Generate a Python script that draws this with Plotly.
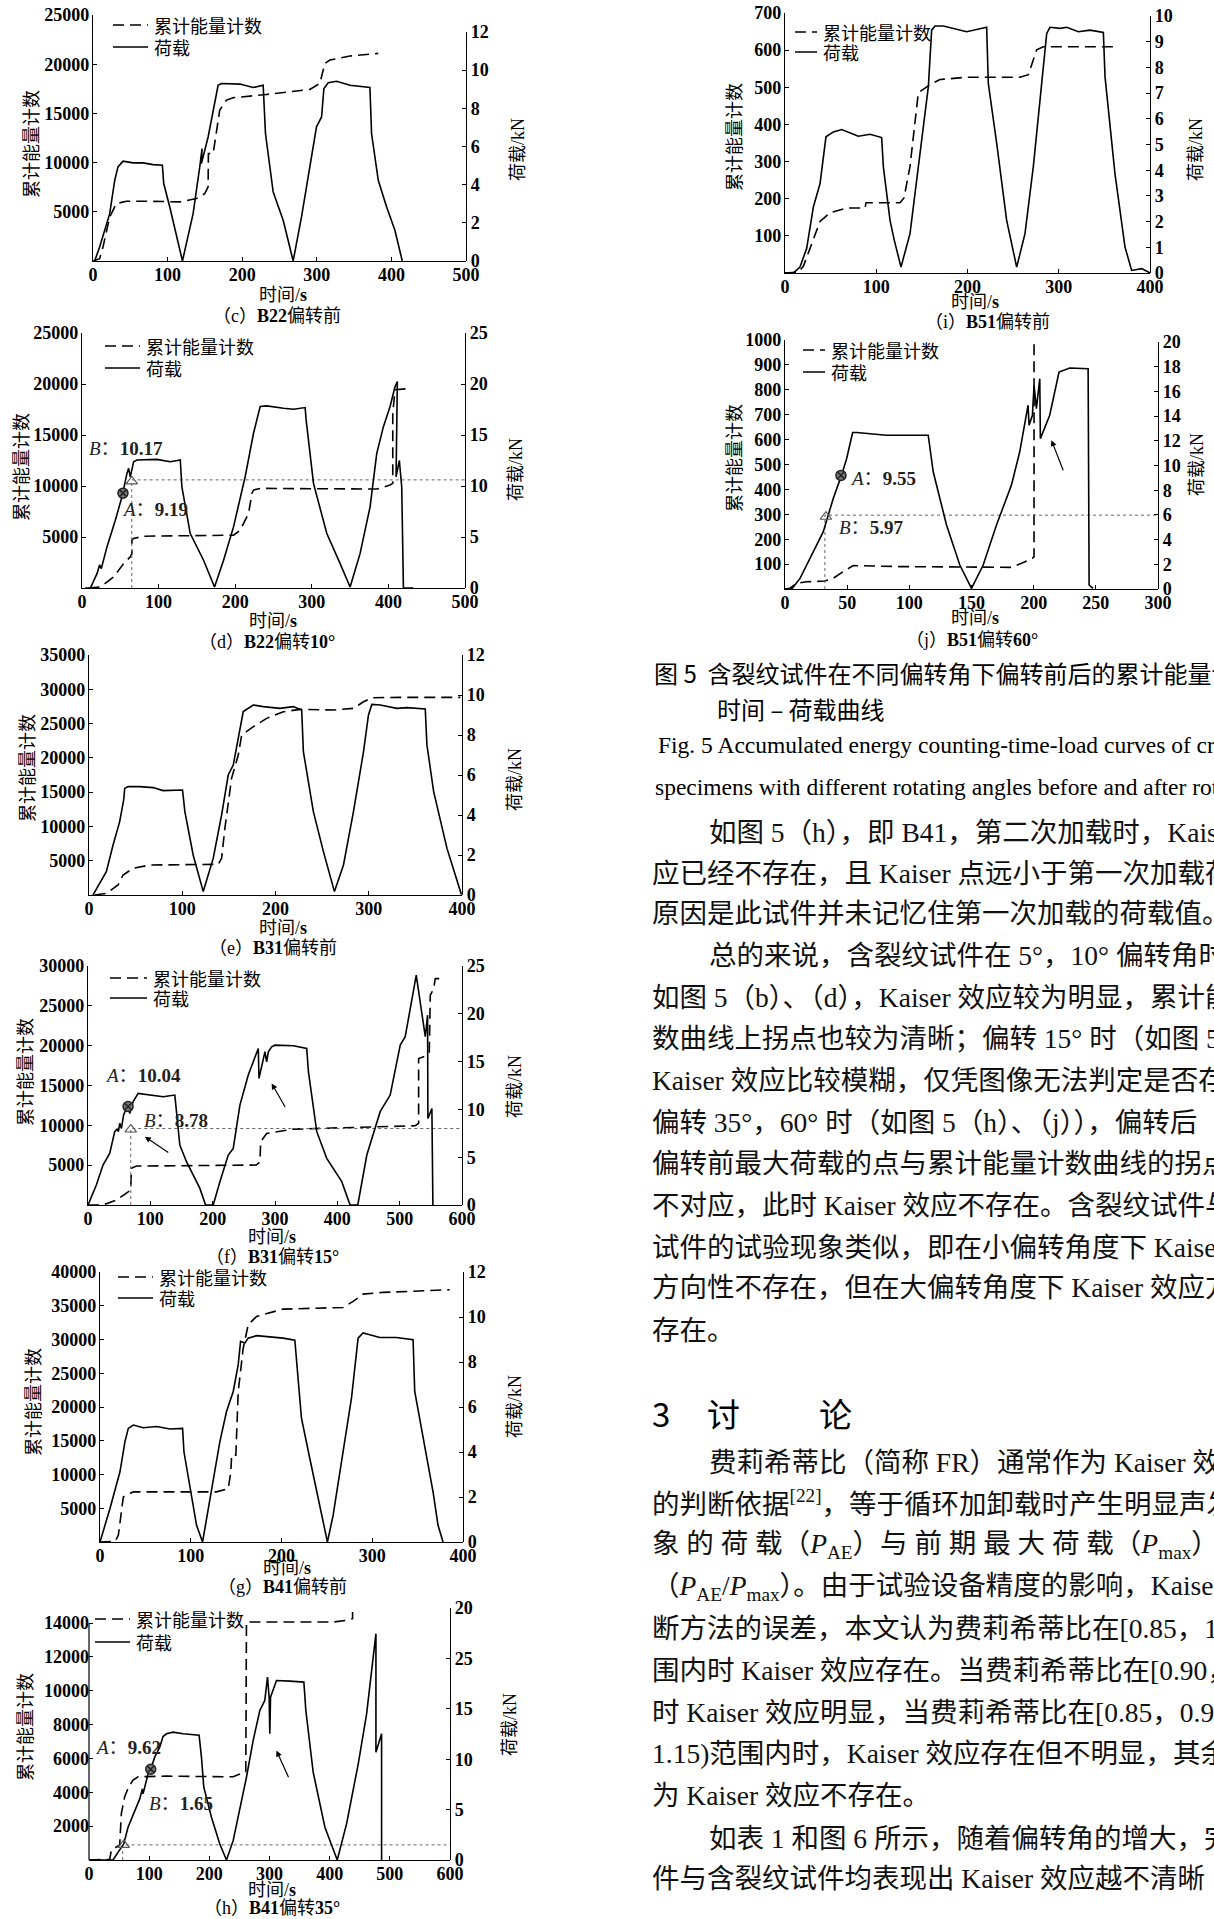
import plotly.graph_objects as go

# ---------------- data ----------------
# (c) B22 before rotation
C_LOAD_T = [2.2, 8.9, 22.4, 29.1, 33.5, 40.3, 53.7, 67.1, 80.5, 93.0, 94.8, 102.9, 119.9, 134.2, 143.1, 146.2, 145.3, 149.0, 154.3, 167.7, 172.2, 196.8, 214.7, 228.1, 231.2, 241.5, 254.9, 259.4, 268.3, 279.5, 290.7, 299.6, 306.4, 309.5, 315.3, 326.5, 344.4, 371.2, 373.4, 382.4, 393.6, 404.7, 414.6]
C_LOAD_KN = [0, 0.73, 2.48, 4.23, 4.93, 5.23, 5.14, 5.14, 5.05, 5.02, 4.06, 2.83, 0, 2.48, 4.93, 5.89, 5.1, 5.7, 6.5, 9.21, 9.30, 9.27, 9.09, 9.21, 6.68, 3.62, 2.13, 1.43, 0, 2.31, 4.93, 7.03, 7.55, 9.04, 9.34, 9.42, 9.21, 9.09, 6.68, 4.23, 2.83, 1.61, 0]
C_AE_T = [0, 8.9, 13.4, 22.4, 31.3, 44.7, 76.0, 116.3, 138.6, 149.8, 154.3, 154.7, 161.0, 169.9, 178.9, 187.8, 232.6, 290.7, 304.1, 310.8, 317.5, 344.4, 382.4]
C_AE_N = [0, 237, 1425, 4478, 5834, 6072, 6072, 6004, 6343, 6852, 7530, 10922, 10922, 15332, 16350, 16587, 16926, 17435, 18046, 20080, 20420, 20827, 21098]

# (d) B22 rotated 10 deg
D_LOAD_T = [4.3, 10.9, 19.6, 23.0, 25.2, 32.6, 43.5, 52.2, 58.7, 60.9, 63.0, 67.4, 71.7, 97.8, 115.2, 128.3, 130.4, 141.3, 158.7, 173.0, 184.8, 197.8, 213.0, 221.7, 223.9, 232.6, 241.3, 263.0, 276.1, 291.3, 292.6, 302.2, 319.6, 337.0, 350.0, 363.0, 376.1, 384.8, 393.5, 402.2, 408.7, 411.7, 410.0, 414.3, 417.4, 419.6, 432.6]
D_LOAD_KN = [0, 0, 1.41, 2.26, 1.90, 4.03, 6.65, 8.94, 11.23, 11.73, 10.9, 12.38, 12.55, 12.61, 12.38, 12.55, 9.92, 5.34, 2.72, 0.1, 2.72, 5.99, 10.91, 14.51, 15.17, 17.79, 17.85, 17.62, 17.52, 17.69, 16.48, 10.25, 5.34, 2.39, 0.1, 3.37, 7.96, 13.2, 15.82, 17.79, 19.75, 20.24, 10.9, 12.5, 9.9, 0, 0]
D_AE_T = [8.7, 23.9, 41.3, 54.3, 63.0, 65.2, 65.2, 67.4, 80.4, 197.8, 206.5, 217.4, 220.4, 221.7, 223.9, 232.6, 384.8, 402.2, 405.7, 405.7, 408.7, 423.9]
D_AE_N = [0, 98, 1081, 2392, 3048, 3375, 4686, 4850, 5079, 5177, 5670, 7308, 8618, 9274, 9601, 9766, 9700, 10093, 10257, 17138, 19432, 19530]
D_PT_A = [53.5, 9.3]
D_PT_B = [65.0, 10.45]
D_REF_T = [65.0, 65.0, 500]
D_REF_KN = [0, 10.6, 10.6]

# (e) B31 before rotation
E_LOAD_T = [4.3, 11.5, 18.6, 25.8, 32.9, 37.2, 38.3, 41.9, 54.4, 68.8, 79.5, 100.3, 102.8, 111.7, 122.5, 133.2, 142.2, 149.3, 154.7, 165.4, 176.2, 186.9, 204.8, 219.1, 228.1, 229.9, 240.6, 251.4, 263.2, 272.9, 283.6, 294.4, 299.7, 303.3, 312.3, 330.2, 340.9, 360.6, 362.4, 369.6, 383.9, 399.3]
E_LOAD_KN = [0, 0.58, 1.17, 2.5, 3.67, 4.75, 5.33, 5.42, 5.42, 5.37, 5.22, 5.25, 4.17, 2.0, 0.17, 1.83, 4.0, 6.0, 6.5, 9.17, 9.5, 9.42, 9.33, 9.42, 9.25, 7.17, 4.17, 2.17, 0.17, 1.5, 4.17, 7.17, 9.0, 9.53, 9.5, 9.33, 9.37, 9.3, 7.5, 5.17, 2.33, 0.03]
E_AE_T = [6.1, 18.6, 31.2, 36.5, 47.3, 65.2, 138.6, 142.2, 145.7, 149.3, 152.9, 160.1, 163.7, 176.2, 190.5, 208.4, 226.3, 262.1, 283.6, 294.4, 303.3, 333.8, 398.2]
E_AE_N = [0, 243, 1458, 2916, 3888, 4374, 4471, 5346, 9720, 13122, 17010, 20412, 23328, 24543, 25758, 26730, 27070, 26973, 27216, 28188, 28771, 28820, 28820]

# (f) B31 rotated 15 deg
F_LOAD_T = [0, 13.4, 24.1, 34.8, 42.9, 46.6, 48.8, 50.9, 53.6, 57.3, 60.5, 64.3, 67.0, 72.3, 80.4, 99.1, 120.5, 139.3, 142.0, 147.3, 158.0, 179.5, 188.6, 200.9, 211.6, 225.0, 233.0, 243.7, 257.1, 273.2, 274.3, 283.9, 286.6, 289.3, 294.6, 300.0, 329.5, 350.9, 353.6, 367.0, 383.0, 407.1, 420.5, 432.8, 447.3, 468.7, 484.8, 500.9, 508.9, 526.6, 541.1, 544.8, 545.3, 551.7, 553.3]
F_LOAD_KN = [0, 2.09, 4.18, 5.4, 7.67, 7.94, 7.67, 8.54, 8.01, 9.48, 9.93, 10.38, 9.58, 10.8, 11.67, 11.5, 11.32, 11.5, 9.76, 6.27, 4.53, 1.74, 0, 0, 2.44, 5.23, 5.92, 10.45, 13.59, 16.38, 13.24, 16.03, 14.98, 16.03, 16.55, 16.72, 16.66, 16.38, 13.94, 7.67, 4.88, 2.44, 0, 0, 5.23, 9.76, 11.5, 16.72, 17.6, 24.04, 17.6, 19.86, 9.06, 10.1, 0]
F_AE_T = [0, 24.1, 45.5, 61.6, 68.6, 69.6, 77.7, 270.0, 275.9, 277.0, 286.6, 329.5, 525.0, 530.4, 530.4, 538.4, 547.5, 549.1, 554.5, 557.1, 565.2]
F_AE_N = [0, 0, 627, 1462, 1880, 4596, 4888, 5014, 5431, 7938, 8983, 9526, 9944, 10236, 18383, 18592, 19219, 26321, 27157, 28410, 28410]
F_PT_A = [64.3, 10.3]
F_PT_B = [68.6, 7.9]
F_REF_T = [68.6, 68.6, 600]
F_REF_KN = [0, 8.0, 8.0]
F_ARROWS = [[131.2, 5.4, 91.1, 7.14], [317.7, 10.1, 294.6, 12.72]]

# (g) B41 before rotation
G_LOAD_T = [0, 11.0, 22.0, 27.5, 31.2, 36.7, 47.7, 62.4, 77.1, 91.0, 92.5, 100.9, 106.4, 113.0, 121.1, 132.1, 139.4, 146.8, 152.3, 154.9, 159.6, 163.3, 172.5, 183.5, 201.8, 214.7, 216.5, 222.0, 231.2, 242.2, 250.6, 256.9, 267.9, 277.1, 284.4, 289.9, 297.2, 308.3, 326.6, 345.0, 346.8, 356.0, 367.0, 372.5, 378.0]
G_LOAD_KN = [0, 1.49, 3.12, 4.46, 5.05, 5.2, 5.08, 5.13, 5.02, 5.05, 4.01, 1.93, 0.74, 0, 1.93, 4.46, 5.8, 6.69, 7.88, 8.92, 8.84, 9.06, 9.17, 9.14, 9.06, 8.97, 8.02, 5.5, 3.71, 1.63, 0, 1.19, 4.01, 6.39, 9.06, 9.29, 9.21, 9.09, 9.09, 8.99, 6.69, 4.61, 2.23, 0.74, 0]
G_AE_T = [0, 16.5, 20.2, 25.7, 36.7, 128.4, 141.3, 144.2, 145.0, 149.7, 152.3, 157.8, 163.3, 172.5, 201.8, 267.9, 278.9, 289.9, 311.9, 385.3]
G_AE_N = [0, 99, 990, 6682, 7425, 7425, 7920, 10395, 12870, 12870, 22275, 28710, 32175, 33413, 34502, 34749, 35640, 36729, 36977, 37373]

# (h) B41 rotated 35 deg
H_LOAD_T = [1.1, 39.9, 48.2, 57.7, 64.9, 73.2, 84.3, 88.7, 89.8, 98.2, 103.7, 109.2, 117.5, 123.1, 128.7, 139.7, 156.4, 183.0, 186.9, 190.8, 203.5, 217.4, 228.5, 239.6, 261.7, 272.8, 283.9, 292.2, 296.7, 299.4, 300.5, 301.7, 311.6, 333.8, 357.1, 360.4, 372.6, 392.1, 412.6, 428.1, 447.5, 461.4, 476.9, 476.9, 486.3, 486.3]
H_LOAD_KN = [0, 0, 0.76, 1.59, 3.25, 4.4, 6.06, 7.05, 6.56, 8.54, 9.21, 10.2, 11.19, 12.25, 12.52, 12.68, 12.52, 12.38, 10.2, 7.22, 4.24, 1.59, 0, 1.92, 8.21, 11.85, 14.83, 15.83, 18.15, 16.16, 12.52, 16.16, 17.81, 17.75, 17.65, 14.83, 8.71, 3.25, 0, 3.58, 9.54, 14.5, 22.45, 10.7, 12.52, 0]
H_AE_T = [1.1, 34.4, 37.2, 45.5, 51.0, 53.8, 59.3, 66.0, 73.2, 81.5, 128.7, 239.6, 260.6, 261.7, 295.0, 405.9, 428.1, 438.1, 438.1]
H_AE_N = [0, 39, 590, 786, 885, 2752, 3735, 4325, 4718, 4915, 4954, 4915, 5210, 14057, 14057, 14057, 14155, 14254, 14647]
H_PT_A = [102.6, 9.0]
H_PT_B = [57.7, 1.5]
H_REF_T = [56.0, 56.0, 600]
H_REF_KN = [0, 1.5, 1.5]
H_ARROWS = [[332.7, 8.05, 311.6, 10.86]]

# (i) B51 before rotation
I_LOAD_T = [0, 9.1, 16.4, 23.7, 31.1, 38.4, 44.9, 53.0, 62.1, 71.2, 80.4, 93.2, 105.9, 107.8, 115.1, 119.8, 127.1, 137.0, 147.9, 157.1, 160.7, 164.4, 173.5, 199.1, 221.0, 222.8, 232.0, 242.9, 253.9, 263.0, 272.1, 279.5, 286.8, 290.4, 301.4, 308.7, 321.5, 334.2, 348.9, 350.7, 361.6, 372.6, 379.9, 390.9, 400.0]
I_LOAD_KN = [0, 0, 0.23, 0.95, 2.57, 3.48, 5.3, 5.49, 5.58, 5.45, 5.32, 5.4, 5.27, 4.13, 2.05, 1.27, 0.23, 1.53, 4.65, 7.25, 9.45, 9.61, 9.61, 9.39, 9.56, 7.38, 5.04, 2.05, 0.23, 1.53, 4.13, 6.73, 9.32, 9.56, 9.52, 9.56, 9.39, 9.45, 9.36, 7.64, 3.87, 1.01, 0.1, 0.17, 0]
I_AE_T = [0, 14.6, 20.1, 31.1, 38.4, 49.3, 67.6, 87.7, 88.8, 126.0, 130.4, 137.0, 146.1, 158.9, 169.9, 199.1, 257.5, 266.7, 275.8, 283.1, 308.7, 365.3]
I_AE_N = [0, 2, 18, 90, 139, 162, 175, 175, 189, 189, 202, 287, 485, 507, 521, 527, 527, 534, 601, 609, 609, 609]

# (j) B51 rotated 60 deg
J_LOAD_T = [0, 5.4, 12.1, 22.8, 30.8, 38.8, 45.5, 49.6, 54.4, 57.6, 81.7, 115.2, 119.2, 129.9, 140.6, 150.0, 159.4, 170.1, 182.1, 188.8, 195.5, 196.3, 199.0, 200.3, 202.2, 204.9, 205.4, 212.9, 220.4, 229.0, 243.8, 244.6, 247.8]
J_LOAD_KN = [0, 0, 0.86, 3.02, 4.64, 7.33, 9.22, 10.57, 12.67, 12.67, 12.45, 12.45, 9.49, 5.18, 1.94, 0.05, 1.94, 5.18, 8.41, 11.11, 14.88, 13.26, 14.07, 16.5, 14.61, 17.03, 12.18, 14.07, 17.57, 17.9, 17.84, 0.32, 0.05]
J_AE_T = [0, 4.0, 9.4, 17.4, 32.1, 38.8, 46.9, 54.9, 92.4, 172.8, 182.1, 190.2, 199.0, 200.3, 200.3]
J_AE_N = [0, 3, 23, 29, 32, 43, 70, 94, 90, 87, 87, 103, 123, 130, 1000]
J_PT_A = [45.0, 9.2]
J_PT_B = [32.9, 5.85]
J_REF_T = [32.1, 32.1, 300]
J_REF_KN = [0, 5.98, 5.98]
J_ARROWS = [[224.2, 9.49, 214.3, 12.05]]

# tick values / labels
X500 = [0, 100, 200, 300, 400, 500]
X400 = [0, 100, 200, 300, 400]
X600 = [0, 100, 200, 300, 400, 500, 600]
X300 = [0, 50, 100, 150, 200, 250, 300]
YL_25000 = [5000, 10000, 15000, 20000, 25000]
YL_35000 = [5000, 10000, 15000, 20000, 25000, 30000, 35000]
YL_30000 = [5000, 10000, 15000, 20000, 25000, 30000]
YL_40000 = [5000, 10000, 15000, 20000, 25000, 30000, 35000, 40000]
YL_14000 = [2000, 4000, 6000, 8000, 10000, 12000, 14000]
YL_700 = [100, 200, 300, 400, 500, 600, 700]
YL_1000 = [100, 200, 300, 400, 500, 600, 700, 800, 900, 1000]
YR_12 = [0, 2, 4, 6, 8, 10, 12]
YR_25 = [0, 5, 10, 15, 20, 25]
YR_H_TEXT = ["0", "5", "10", "15", "25", "20"]
YR_10 = [0, 1, 2, 3, 4, 5, 6, 7, 8, 9, 10]
YR_20 = [0, 2, 4, 6, 8, 10, 12, 14, 16, 18, 20]

LEG_AE = "累计能量计数"
LEG_LOAD = "荷载"
Y_LEFT_TITLE = "累计能量计数"
Y_RIGHT_TITLE = "荷载/kN"
X_TITLE = "时间/<b>s</b>"

# ---------------- layout helpers ----------------
W, H = 1214, 1919
def px(x): return x / W
def py(y): return 1 - y / H

SERIF = "Liberation Serif"
CJK = "Noto Sans CJK SC"
MIX = "Liberation Serif, Noto Sans CJK SC"

def aname(p, k): return p + "axis" + ("" if k == 1 else str(k))
def aref(p, k): return p + ("" if k == 1 else str(k))

panels = [
    dict(lt=C_LOAD_T, lk=C_LOAD_KN, at=C_AE_T, an=C_AE_N, xd=(93, 466), yl=(261, 15), yr=(261, 32),
         xr=[0, 500], ylr=[0, 25000], yrr=[0, 12], xt=X500, ylt=YL_25000, yrt=YR_12,
         ytl=(30, 144), ytr=(518, 150), xtt=(283, 295), cap=(277, 316), captxt="（c）<b>B22</b>偏转前",
         leg=(113, 148, 25, 47)),
    dict(lt=D_LOAD_T, lk=D_LOAD_KN, at=D_AE_T, an=D_AE_N, xd=(82, 465), yl=(588, 333), yr=(588, 333),
         xr=[0, 500], ylr=[0, 25000], yrr=[0, 25], xt=X500, ylt=YL_25000, yrt=YR_25,
         ytl=(20, 467), ytr=(516, 470), xtt=(273, 621), cap=(267, 642), captxt="（d）<b>B22</b>偏转<b>10°</b>",
         leg=(105, 140, 346, 368), pa=D_PT_A, pb=D_PT_B, ref=(D_REF_T, D_REF_KN),
         lab=[("<i>B</i>：<b>10.17</b>", 87, 448), ("<i>A</i>：<b>9.19</b>", 120, 510)]),
    dict(lt=E_LOAD_T, lk=E_LOAD_KN, at=E_AE_T, an=E_AE_N, xd=(89, 462), yl=(895, 655), yr=(895, 655),
         xr=[0, 400], ylr=[0, 35000], yrr=[0, 12], xt=X400, ylt=YL_35000, yrt=YR_12,
         ytl=(26, 768), ytr=(515, 780), xtt=(283, 928), cap=(273, 948), captxt="（e）<b>B31</b>偏转前"),
    dict(lt=F_LOAD_T, lk=F_LOAD_KN, at=F_AE_T, an=F_AE_N, xd=(88, 462), yl=(1205, 966), yr=(1205, 966),
         xr=[0, 600], ylr=[0, 30000], yrr=[0, 25], xt=X600, ylt=YL_30000, yrt=YR_25,
         ytl=(24, 1072), ytr=(515, 1087), xtt=(272, 1237), cap=(272, 1257), captxt="（f）<b>B31</b>偏转<b>15°</b>",
         leg=(110, 147, 978, 998), pa=F_PT_A, pb=F_PT_B, ref=(F_REF_T, F_REF_KN), arrows=F_ARROWS,
         lab=[("<i>A</i>：<b>10.04</b>", 103, 1075), ("<i>B</i>：<b>8.78</b>", 142, 1120)]),
    dict(lt=G_LOAD_T, lk=G_LOAD_KN, at=G_AE_T, an=G_AE_N, xd=(100, 463), yl=(1542, 1272), yr=(1542, 1272),
         xr=[0, 400], ylr=[0, 40000], yrr=[0, 12], xt=X400, ylt=YL_40000, yrt=YR_12,
         ytl=(32, 1402), ytr=(515, 1407), xtt=(287, 1568), cap=(282, 1587), captxt="（g）<b>B41</b>偏转前",
         leg=(118, 153, 1277, 1298)),
    dict(lt=H_LOAD_T, lk=H_LOAD_KN, at=H_AE_T, an=H_AE_N, xd=(89, 450), yl=(1860, 1608), yr=(1860, 1608),
         xr=[0, 600], ylr=[0, 14886], yrr=[0, 25], xt=X600, ylt=YL_14000, yrt=YR_25, yrtext=YR_H_TEXT,
         ytl=(24, 1727), ytr=(510, 1725), xtt=(272, 1890), cap=(272, 1908), captxt="（h）<b>B41</b>偏转<b>35°</b>",
         leg=(95, 130, 1619, 1642), pa=H_PT_A, pb=H_PT_B, ref=(H_REF_T, H_REF_KN), arrows=H_ARROWS,
         lab=[("<i>A</i>：<b>9.62</b>", 93, 1747), ("<i>B</i>：<b>1.65</b>", 147, 1803)], lefttop=14000),
    dict(lt=I_LOAD_T, lk=I_LOAD_KN, at=I_AE_T, an=I_AE_N, xd=(785, 1150), yl=(273, 13), yr=(273, 16),
         xr=[0, 400], ylr=[0, 700], yrr=[0, 10], xt=X400, ylt=YL_700, yrt=YR_10,
         ytl=(733, 137), ytr=(1196, 150), xtt=(975, 302), cap=(987, 322), captxt="（i）<b>B51</b>偏转前",
         leg=(795, 817, 32, 52)),
    dict(lt=J_LOAD_T, lk=J_LOAD_KN, at=J_AE_T, an=J_AE_N, xd=(785, 1158), yl=(589, 340), yr=(589, 342),
         xr=[0, 300], ylr=[0, 1000], yrr=[0, 20], xt=X300, ylt=YL_1000, yrt=YR_20,
         ytl=(733, 458), ytr=(1197, 465), xtt=(975, 618), cap=(972, 640), captxt="（j）<b>B51</b>偏转<b>60°</b>",
         leg=(803, 825, 350, 372), pa=J_PT_A, pb=J_PT_B, ref=(J_REF_T, J_REF_KN), arrows=J_ARROWS,
         lab=[("<i>A</i>：<b>9.55</b>", 848, 478), ("<i>B</i>：<b>5.97</b>", 837, 527)]),
]

fig = go.Figure()
layout = dict(width=W, height=H, autosize=False, margin=dict(l=0, r=0, t=0, b=0, pad=0),
              paper_bgcolor="white", plot_bgcolor="rgba(0,0,0,0)", showlegend=False)
annotations, shapes = [], []

tickfont = dict(family=SERIF, size=18, color="black", weight="bold")
base_axis = dict(showgrid=False, zeroline=False, showline=True, linecolor="black", linewidth=1.2,
                 ticks="inside", ticklen=4, tickwidth=1, tickcolor="black", tickfont=tickfont,
                 tickformat="d", automargin=False, fixedrange=True)

def txt(x, y, text, size=18, family=CJK, xanchor="center", angle=0, color="black"):
    annotations.append(dict(x=px(x), y=py(y), xref="paper", yref="paper", text=text, showarrow=False,
                            xanchor=xanchor, yanchor="middle", textangle=angle,
                            font=dict(family=family, size=size, color=color)))

for i, p in enumerate(panels):
    kx, kl, kr = i + 1, 2 * i + 1, 2 * i + 2
    xr_, yl_, yr_ = aref("x", kx), aref("y", kl), aref("y", kr)
    layout[aname("x", kx)] = dict(base_axis, domain=[px(p["xd"][0]), px(p["xd"][1])], anchor=yl_,
                                 range=p["xr"], tickvals=p["xt"], ticklabelstandoff=-3)
    yl_axis = dict(base_axis, domain=[py(p["yl"][0]), py(p["yl"][1])], anchor=xr_, side="left",
                   range=p["ylr"], tickvals=p["ylt"], ticklabelstandoff=-1)
    if "lefttop" in p:
        yl_axis["showline"] = False
        shapes.append(dict(type="line", xref="paper", yref=yl_, x0=px(p["xd"][0]), x1=px(p["xd"][0]),
                           y0=0, y1=p["lefttop"], line=dict(color="black", width=1.2)))
    layout[aname("y", kl)] = yl_axis
    yr_axis = dict(base_axis, domain=[py(p["yr"][0]), py(p["yr"][1])], anchor=xr_, side="right",
                   range=p["yrr"], tickvals=p["yrt"])
    if "yrtext" in p:
        yr_axis["ticktext"] = p["yrtext"]
    layout[aname("y", kr)] = yr_axis

    # reference dotted lines
    if "ref" in p:
        fig.add_trace(go.Scatter(x=p["ref"][0], y=p["ref"][1], xaxis=xr_, yaxis=yr_, mode="lines",
                                 line=dict(color="#666", width=1, dash="dot"), hoverinfo="skip"))
    # energy (dashed) and load (solid)
    fig.add_trace(go.Scatter(x=p["at"], y=p["an"], xaxis=xr_, yaxis=yl_, mode="lines",
                             line=dict(color="black", width=1.6, dash="11px,6px"), name=LEG_AE))
    fig.add_trace(go.Scatter(x=p["lt"], y=p["lk"], xaxis=xr_, yaxis=yr_, mode="lines",
                             line=dict(color="black", width=1.6), name=LEG_LOAD))
    if "pa" in p:
        fig.add_trace(go.Scatter(x=[p["pa"][0]], y=[p["pa"][1]], xaxis=xr_, yaxis=yr_, mode="markers",
                                 marker=dict(symbol="circle-x", size=10, color="#777",
                                             line=dict(color="#222", width=1.5))))
        fig.add_trace(go.Scatter(x=[p["pb"][0]], y=[p["pb"][1]], xaxis=xr_, yaxis=yr_, mode="markers",
                                 marker=dict(symbol="triangle-up-open", size=10, color="#555",
                                             line=dict(width=1.2))))
    for a in p.get("arrows", []):
        annotations.append(dict(x=a[2], y=a[3], ax=a[0], ay=a[1], xref=xr_, yref=yr_, axref=xr_,
                                ayref=yr_, text="", showarrow=True, arrowhead=2, arrowsize=1,
                                arrowwidth=1.2, arrowcolor="black"))
    for (t, x, y) in p.get("lab", []):
        txt(x, y, t, size=19, family=MIX, xanchor="left", color="#222")

    # titles
    txt(p["ytl"][0], p["ytl"][1], Y_LEFT_TITLE, size=18, angle=-90)
    txt(p["ytr"][0], p["ytr"][1], Y_RIGHT_TITLE, size=18, family=MIX, angle=-90)
    txt(p["xtt"][0], p["xtt"][1], X_TITLE, size=18, family=MIX)
    txt(p["cap"][0], p["cap"][1], p["captxt"], size=18, family=MIX)

    # legend
    if "leg" in p:
        x0, x1, ya, yb = p["leg"]
        shapes.append(dict(type="line", xref="paper", yref="paper", x0=px(x0), x1=px(x1), y0=py(ya), y1=py(ya),
                           line=dict(color="black", width=1.5, dash="11px,6px")))
        shapes.append(dict(type="line", xref="paper", yref="paper", x0=px(x0), x1=px(x1), y0=py(yb), y1=py(yb),
                           line=dict(color="black", width=1.5)))
        txt(x1 + 4, ya, LEG_AE, size=18, xanchor="left")
        txt(x1 + 4, yb, LEG_LOAD, size=18, xanchor="left")

# ---------------- right-column text ----------------
txt(652, 673, "图 5  含裂纹试件在不同偏转角下偏转前后的累计能量计数–", size=24, xanchor="left")
txt(715, 708, "时间 – 荷载曲线", size=24, xanchor="left")
txt(656, 745, "Fig. 5 Accumulated energy counting-time-load curves of cracked", size=23.5, family=SERIF, xanchor="left")
txt(653, 787, "specimens with different rotating angles before and after rotating", size=23.5, family=SERIF, xanchor="left")

BODY = [
    (707, 832, "如图 5（h），即 B41，第二次加载时，Kaiser 效应"),
    (650, 873, "应已经不存在，且 Kaiser 点远小于第一次加载荷载，"),
    (650, 913, "原因是此试件并未记忆住第一次加载的荷载值。"),
    (707, 955, "总的来说，含裂纹试件在 5°，10° 偏转角时，"),
    (650, 998, "如图 5（b）、（d），Kaiser 效应较为明显，累计能量计"),
    (650, 1038, "数曲线上拐点也较为清晰；偏转 15° 时（如图 5（f）），"),
    (650, 1080, "Kaiser 效应比较模糊，仅凭图像无法判定是否存在；"),
    (650, 1122, "偏转 35°，60° 时（如图 5（h）、（j）），偏转后"),
    (650, 1163, "偏转前最大荷载的点与累计能量计数曲线的拐点"),
    (650, 1205, "不对应，此时 Kaiser 效应不存在。含裂纹试件与完整"),
    (650, 1247, "试件的试验现象类似，即在小偏转角度下 Kaiser 效应"),
    (650, 1287, "方向性不存在，但在大偏转角度下 Kaiser 效应方向性"),
    (650, 1330, "存在。"),
    (707, 1462, "费莉希蒂比（简称 FR）通常作为 Kaiser 效应"),
    (650, 1502, "的判断依据<sup>[22]</sup>，等于循环加卸载时产生明显声发射"),
    (650, 1545, "象 的 荷 载（<i>P</i><sub>AE</sub>）与 前 期 最 大 荷 载（<i>P</i><sub>max</sub>）比"),
    (650, 1587, "（<i>P</i><sub>AE</sub>/<i>P</i><sub>max</sub>）。由于试验设备精度的影响，Kaiser 效应"),
    (650, 1628, "断方法的误差，本文认为费莉希蒂比在[0.85，1.15]范"),
    (650, 1670, "围内时 Kaiser 效应存在。当费莉希蒂比在[0.90，1.1]"),
    (650, 1712, "时 Kaiser 效应明显，当费莉希蒂比在[0.85，0.9]U(1.1，"),
    (650, 1753, "1.15)范围内时，Kaiser 效应存在但不明显，其余情况"),
    (650, 1795, "为 Kaiser 效应不存在。"),
    (707, 1838, "如表 1 和图 6 所示，随着偏转角的增大，完整试"),
    (650, 1878, "件与含裂纹试件均表现出 Kaiser 效应越不清晰"),
]
for x, y, t in BODY:
    txt(x, y, t, size=27.5, family=MIX, xanchor="left", color="#111")

txt(650, 1413, "3", size=33, xanchor="left")
txt(705, 1413, "讨", size=33, xanchor="left")
txt(817, 1413, "论", size=33, xanchor="left")

layout["annotations"] = annotations
layout["shapes"] = shapes
fig.update_layout(**layout)
fig.write_html("out.html", config={"displayModeBar": False},
               post_script="document.body.style.margin='0px';")
